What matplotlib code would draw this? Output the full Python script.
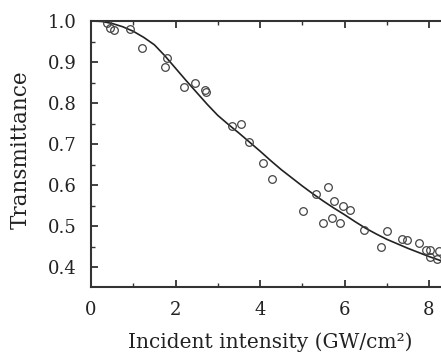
import matplotlib
matplotlib.use("Agg")
import matplotlib.pyplot as plt
from matplotlib.ticker import MultipleLocator

# measured data (open circles)
meas_x = [0.37, 0.45, 0.54, 0.93, 1.20, 1.76, 1.80, 2.19, 2.46, 2.71, 2.73,
          3.34, 3.54, 3.75, 4.06, 4.29, 5.02, 5.32, 5.60, 5.48, 5.71, 5.75,
          5.89, 5.96, 6.14, 6.45, 6.86, 7.01, 7.35, 7.49, 7.77, 7.94, 8.03,
          8.02, 8.20, 8.23]
meas_y = [0.996, 0.983, 0.978, 0.980, 0.935, 0.888, 0.910, 0.838, 0.850, 0.832, 0.828,
          0.745, 0.750, 0.705, 0.655, 0.615, 0.537, 0.578, 0.596, 0.507, 0.520, 0.562,
          0.508, 0.548, 0.540, 0.490, 0.450, 0.489, 0.468, 0.466, 0.459, 0.442, 0.443,
          0.425, 0.419, 0.440]

# fitted curve
fit_x = [0.0, 0.25, 0.5, 0.75, 1.0, 1.25, 1.5, 1.75, 2.0, 2.25, 2.5, 2.75, 3.0,
         3.25, 3.5, 3.75, 4.0, 4.25, 4.5, 4.75, 5.0, 5.25, 5.5, 5.75, 6.0,
         6.25, 6.5, 6.75, 7.0, 7.25, 7.5, 7.75, 8.0, 8.25, 8.5]
fit_y = [1.0, 0.999, 0.994, 0.986, 0.975, 0.960, 0.942, 0.915, 0.885, 0.855,
         0.826, 0.797, 0.770, 0.748, 0.727, 0.705, 0.683, 0.660, 0.638, 0.618,
         0.598, 0.579, 0.561, 0.544, 0.528, 0.511, 0.495, 0.481, 0.468, 0.457,
         0.446, 0.436, 0.426, 0.417, 0.408]

x_ticks = [0, 2, 4, 6, 8]
y_ticks = [0.4, 0.5, 0.6, 0.7, 0.8, 0.9, 1.0]

plt.rcParams['font.family'] = ['DejaVu Serif']

W, H = 441, 356
fig = plt.figure(figsize=(W / 100, H / 100), dpi=100)
left, top, bottom = 91, 21, 287.3
xmax = 10.0
px_per_unit = 42.25
width = px_per_unit * xmax
height = bottom - top
ax = fig.add_axes([left / W, (H - bottom) / H, width / W, height / H])

ax.plot(fit_x, fit_y, color='#222222', lw=1.2, zorder=2)
ax.plot(meas_x, meas_y, linestyle='none', marker='o', ms=5.5, mfc='none',
        mec='#444444', mew=0.9, zorder=3)

ax.set_xlim(0, xmax)
ax.set_ylim(0.351, 1.0)
ax.set_xticks(x_ticks)
ax.set_xticklabels([str(v) for v in x_ticks])
ax.set_yticks(y_ticks)
ax.set_yticklabels([f"{v:.1f}" for v in y_ticks])
ax.xaxis.set_minor_locator(MultipleLocator(1))
ax.yaxis.set_minor_locator(MultipleLocator(0.05))

for s in ax.spines.values():
    s.set_linewidth(1.5)
    s.set_color('#333333')
ax.spines['right'].set_visible(False)

ax.tick_params(which='both', direction='in', top=True, right=False,
               color='#333333', labelsize=13, labelcolor='#222222')
ax.tick_params(which='major', length=5, width=1.3)
ax.tick_params(which='minor', length=3, width=1.0)
ax.tick_params(axis='x', which='major', pad=10)
ax.tick_params(axis='y', which='major', pad=10)

ax.set_xlabel('Incident intensity (GW/cm²)', fontsize=14.5, color='#222222')
ax.set_ylabel('Transmittance', fontsize=15.5, color='#222222')
ax.xaxis.set_label_coords((270 - left) / width, -(332 - bottom) / height)
ax.yaxis.set_label_coords(-(91 - 32) / width, (bottom - 150) / height)

fig.savefig('out.png', dpi=100)
